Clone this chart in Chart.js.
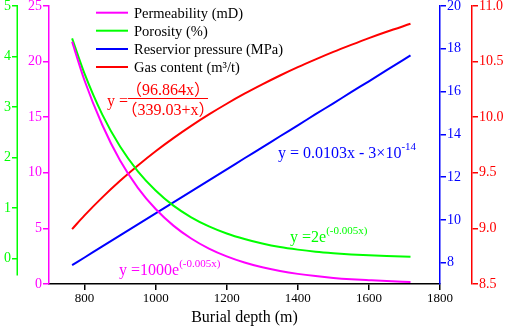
<!DOCTYPE html>
<html>
<head>
<meta charset="utf-8">
<script src="https://cdn.jsdelivr.net/npm/chart.js@4.4.1/dist/chart.umd.min.js"></script>
<style>
  html, body { margin: 0; padding: 0; background: #fff; }
  canvas { display: block; }
</style>
</head>
<body>
<canvas id="depthChart" width="505" height="327"></canvas>
<script>
// values
const depth = [765, 800, 850, 900, 950, 1000, 1050, 1100, 1150, 1200, 1250, 1300, 1350, 1400, 1450, 1500, 1550, 1600, 1650, 1717];
const permeability = [21.8, 18.3, 14.3, 11.1, 8.65, 6.74, 5.25, 4.09, 3.18, 2.48, 1.93, 1.50, 1.17, 0.91, 0.71, 0.55, 0.43, 0.34, 0.26, 0.19];
const porosity = [4.36, 3.66, 2.85, 2.22, 1.73, 1.35, 1.05, 0.82, 0.64, 0.50, 0.39, 0.30, 0.23, 0.18, 0.14, 0.11, 0.086, 0.067, 0.052, 0.037];
const pressure = [7.88, 8.24, 8.76, 9.27, 9.79, 10.30, 10.82, 11.33, 11.85, 12.36, 12.88, 13.39, 13.91, 14.42, 14.94, 15.45, 15.97, 16.48, 17.00, 17.69];
const gasContent = [8.994, 9.117, 9.279, 9.428, 9.566, 9.694, 9.812, 9.922, 10.025, 10.121, 10.211, 10.295, 10.375, 10.450, 10.520, 10.587, 10.650, 10.711, 10.768, 10.840];

const depthTicks = [800, 1000, 1200, 1400, 1600, 1800];
const permTicks = [0, 5, 10, 15, 20, 25];
const poroTicks = [0, 1, 2, 3, 4, 5];
const pressTicks = [8, 10, 12, 14, 16, 18, 20];
const gasTicks = [8.5, 9.0, 9.5, 10.0, 10.5, 11.0];

const MAGENTA = '#ff00ff';
const GREEN = '#00ff00';
const BLUE = '#0000ff';
const RED = '#ff0000';
const SERIF = '"Liberation Serif", "Times New Roman", "Noto Sans CJK SC", serif';

const toPoints = (ys) => depth.map((x, i) => ({ x: x, y: ys[i] }));

function yAxis(color, position, min, max, ticks, width, fmt, showBorder = true) {
    return {
        type: 'linear',
        position: position,
        min: min,
        max: max,
        border: { display: showBorder, color: color, width: 1.5 },
        grid: { display: true, drawOnChartArea: false, drawTicks: true, tickLength: 6, color: color, lineWidth: 1.5 },
        ticks: {
            color: color,
            padding: 1,
            font: { family: SERIF, size: 14 },
            callback: fmt || ((v) => String(v))
        },
        afterBuildTicks: (scale) => { scale.ticks = ticks.map(v => ({ value: v })); },
        afterFit: (scale) => {
            scale.width = width;
            scale.paddingTop = 6;
            scale.paddingBottom = 0;
        }
    };
}

// legend + fitted equations drawn on top
const annotations = {
    id: 'annotations',
    afterDraw(chart) {
        const ctx = chart.ctx;
        ctx.save();

        // porosity axis line stops a bit short of the bottom, like the original
        const poro = chart.scales.yPoro;
        ctx.strokeStyle = GREEN;
        ctx.lineWidth = 1.5;
        ctx.beginPath();
        ctx.moveTo(poro.right - 0.75, chart.chartArea.top);
        ctx.lineTo(poro.right - 0.75, poro.getPixelForValue(-0.33));
        ctx.stroke();

        // legend
        const rows = [12.7, 30.7, 49, 67];
        chart.data.datasets.forEach((ds, i) => {
            ctx.strokeStyle = ds.borderColor;
            ctx.lineWidth = 2;
            ctx.beginPath();
            ctx.moveTo(96, rows[i]);
            ctx.lineTo(128, rows[i]);
            ctx.stroke();
            ctx.fillStyle = '#000';
            ctx.font = '14.5px ' + SERIF;
            ctx.textBaseline = 'middle';
            ctx.textAlign = 'left';
            ctx.fillText(ds.label, 134, rows[i] + 1);
        });

        const supText = (x, y, base, sup, color) => {
            ctx.fillStyle = color;
            ctx.textAlign = 'left';
            ctx.textBaseline = 'alphabetic';
            ctx.font = '16px ' + SERIF;
            ctx.fillText(base, x, y);
            const w = ctx.measureText(base).width;
            ctx.font = '11px ' + SERIF;
            ctx.fillText(sup, x + w, y - 8);
        };

        supText(119, 275, 'y =1000e', '(-0.005x)', MAGENTA);
        supText(290, 242, 'y =2e', '(-0.005x)', GREEN);
        supText(278, 158, 'y = 0.0103x - 3×10', '-14', BLUE);

        // gas content fraction
        ctx.fillStyle = RED;
        ctx.strokeStyle = RED;
        ctx.font = '16px ' + SERIF;
        ctx.textBaseline = 'alphabetic';
        ctx.textAlign = 'left';
        ctx.fillText('y =', 107, 106);
        ctx.lineWidth = 1;
        ctx.beginPath();
        ctx.moveTo(128, 98.5);
        ctx.lineTo(208, 98.5);
        ctx.stroke();
        ctx.textAlign = 'center';
        ctx.fillText('（96.864x）', 168, 95);
        ctx.fillText('（339.03+x）', 168, 115);

        ctx.restore();
    }
};

new Chart(document.getElementById('depthChart'), {
    type: 'line',
    data: {
        datasets: [
            { label: 'Permeability (mD)', data: toPoints(permeability), yAxisID: 'yPerm', borderColor: MAGENTA },
            { label: 'Porosity (%)', data: toPoints(porosity), yAxisID: 'yPoro', borderColor: GREEN },
            { label: 'Reservior pressure (MPa)', data: toPoints(pressure), yAxisID: 'yPress', borderColor: BLUE },
            { label: 'Gas content (m³/t)', data: toPoints(gasContent), yAxisID: 'yGas', borderColor: RED }
        ]
    },
    options: {
        responsive: false,
        animation: false,
        layout: { padding: 0 },
        elements: {
            line: { borderWidth: 2, cubicInterpolationMode: 'monotone', fill: false },
            point: { radius: 0, hoverRadius: 0 }
        },
        plugins: {
            legend: { display: false },
            tooltip: { enabled: false }
        },
        scales: {
            x: {
                type: 'linear',
                min: 700,
                max: 1800,
                border: { display: true, color: '#000', width: 1.5 },
                grid: { display: true, drawOnChartArea: false, drawTicks: true, tickLength: 6, color: '#000', lineWidth: 1.5 },
                ticks: {
                    color: '#000',
                    padding: 1,
                    maxRotation: 0,
                    font: { family: SERIF, size: 13 },
                    callback: (v) => String(v)
                },
                afterBuildTicks: (scale) => { scale.ticks = depthTicks.map(v => ({ value: v })); },
                title: {
                    display: true,
                    text: 'Burial depth (m)',
                    color: '#000',
                    padding: { top: 0, bottom: 0 },
                    font: { family: SERIF, size: 16 }
                },
                afterFit: (scale) => { scale.height = 43; }
            },
            // inner axes first: Chart.js stacks later ones outside
            yPerm: yAxis(MAGENTA, 'left', 0, 25, permTicks, 31),
            yPoro: yAxis(GREEN, 'left', -0.5, 5, poroTicks, 18, null, false),
            yPress: yAxis(BLUE, 'right', 7, 20, pressTicks, 32),
            yGas: yAxis(RED, 'right', 8.5, 11, gasTicks, 33, (v) => v.toFixed(1))
        }
    },
    plugins: [annotations]
});
</script>
</body>
</html>
